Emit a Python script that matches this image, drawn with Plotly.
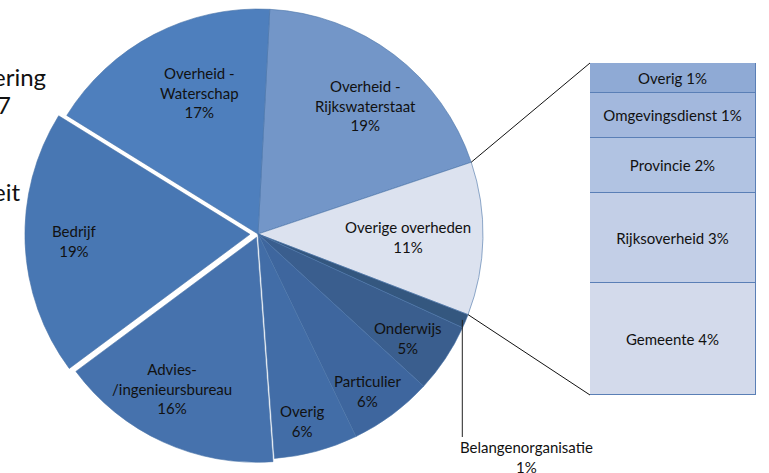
import math
import plotly.graph_objects as go

W, H = 769, 473

# ---- data ----
pie_labels = ["Overheid -<br>Rijkswaterstaat", "Overige overheden", "Belangenorganisatie",
              "Onderwijs", "Particulier", "Overig", "Advies-<br>/ingenieursbureau",
              "Bedrijf", "Overheid -<br>Waterschap"]
pie_values = [19, 11, 1, 5, 6, 6, 16, 19, 17]

bar_labels = ["Gemeente", "Rijksoverheid", "Provincie", "Omgevingsdienst", "Overig"]
bar_values = [3.7, 3.0, 1.8, 1.5, 1.0]
bar_pct = [4, 3, 2, 1, 1]

title_fragments = ["ering", "7", "eit"]

# ---- style ----
pie_colors = ["#7396C8", "#DCE2EF", "#34577F", "#3A5E8E", "#3E669E",
              "#426DA7", "#4672AD", "#4877B3", "#4E7FBD"]
pie_pull = [0, 0, 0, 0, 0, 0, 0.016, 0.036, 0]
bar_colors = ["#D3DAEB", "#C3CFE7", "#B1C3E2", "#A3B8DD", "#8FAAD5"]
FONT = "Lato"
FS = 15
TXT = "#111111"
rotation = 3.0
cx, cy, R = 258.0, 234.0, 225.0
# label placement (radius fraction, angle offset deg) per slice
lab_r = [0.745, 0.665, None, 0.81, 0.85, 0.855, 0.77, 0.78, 0.68]
lab_da = [2.7, 0.0, 0, 1.1, 1.6, 1.8, 4.7, 0.2, 5.0]
title_pos = [(48, 76), (13, 105), (22, 191)]  # (right edge px, middle px)

maxpull = max(pie_pull)
half = R * (1 + maxpull)
dom_x = [(cx - half) / W, (cx + half) / W]
dom_y = [max(0, 1 - (cy + half) / H), min(1, 1 - (cy - half) / H)]

total = sum(pie_values)

fig = go.Figure()
fig.add_trace(go.Pie(
    labels=[l.replace("<br>", " ") for l in pie_labels], values=pie_values, sort=False,
    direction="clockwise", rotation=rotation, pull=pie_pull,
    marker=dict(colors=pie_colors, line=dict(color="#4A73A8", width=0.6)),
    textinfo="none", hoverinfo="label+percent", showlegend=False,
    domain=dict(x=dom_x, y=dom_y),
))

# stacked bar for "Overige overheden" breakdown
bx0, bx1, by0, by1 = 590, 756, 63, 395
for lab, v, p, c in zip(bar_labels, bar_values, bar_pct, bar_colors):
    fig.add_trace(go.Bar(
        x=[0], y=[v], xaxis="x2", yaxis="y2", width=1,
        marker=dict(color=c, line=dict(color="#5A7FB6", width=1)),
        text=[f"{lab} {p}%"], textposition="inside", insidetextanchor="middle",
        textangle=0, constraintext="none",
        textfont=dict(family=FONT, size=FS, color=TXT),
        showlegend=False, hoverinfo="text",
    ))

fig.update_layout(
    width=W, height=H, margin=dict(l=0, r=0, t=0, b=0),
    paper_bgcolor="white", plot_bgcolor="white", barmode="stack", bargap=0,
    xaxis2=dict(domain=[bx0 / W, bx1 / W], range=[-0.5, 0.5], visible=False, anchor="y2"),
    yaxis2=dict(domain=[1 - by1 / H, 1 - by0 / H], range=[0, sum(bar_values)], visible=False, anchor="x2"),
    xaxis=dict(visible=False), yaxis=dict(visible=False),
)


def px(x, y):
    return x / W, 1 - y / H


def pol(ang_deg, rad, ox=cx, oy=cy):
    a = math.radians(ang_deg)
    return ox + rad * math.sin(a), oy - rad * math.cos(a)


def note(x, y, text, size=FS, xanchor="center"):
    tx, ty = px(x, y)
    return dict(x=tx, y=ty, xref="paper", yref="paper", showarrow=False,
                xanchor=xanchor, yanchor="middle", text=text, align="center",
                font=dict(family=FONT, size=size, color=TXT))


ann = []
cum = 0
for i, (lab, v) in enumerate(zip(pie_labels, pie_values)):
    a0 = rotation + cum / total * 360
    a1 = rotation + (cum + v) / total * 360
    mid = (a0 + a1) / 2
    cum += v
    ocx, ocy = pol(mid, pie_pull[i] * R)
    pct = round(v / total * 100)
    if lab_r[i] is None:
        # leader line label
        sx, sy = pol(mid, R * 0.985, ocx, ocy)
        ey = 437
        fig.add_shape(type="line", xref="paper", yref="paper",
                      x0=px(sx, sy)[0], y0=px(sx, sy)[1], x1=px(sx, ey)[0], y1=px(sx, ey)[1],
                      line=dict(color="#222222", width=1))
        ann.append(note(sx + 64, 457, f"{lab}<br>{pct}%"))
        continue
    lx, ly = pol(mid + lab_da[i], R * lab_r[i], ocx, ocy)
    ann.append(note(lx, ly, f"{lab}<br>{pct}%"))

# connector lines from "Overige overheden" slice to the bar
cum_before = sum(pie_values[:1])
a_top = rotation + cum_before / total * 360
a_bot = rotation + (cum_before + pie_values[1]) / total * 360
tx0, ty0 = pol(a_top, R)
tx1, ty1 = pol(a_bot, R)
for (sx, sy), (ex, ey) in [((tx0, ty0), (bx0, by0)), ((tx1, ty1), (bx0, by1))]:
    p0 = px(sx, sy)
    p1 = px(ex, ey)
    fig.add_shape(type="line", xref="paper", yref="paper", x0=p0[0], y0=p0[1], x1=p1[0], y1=p1[1],
                  line=dict(color="#111111", width=1))

# clipped title fragments on the left
for txt, (xr, yy) in zip(title_fragments, title_pos):
    ann.append(note(xr, yy, txt, size=24, xanchor="right"))

fig.update_layout(annotations=ann)
fig.write_html("out.html", config={"displayModeBar": False},
               post_script="document.body.style.margin='0px';")
